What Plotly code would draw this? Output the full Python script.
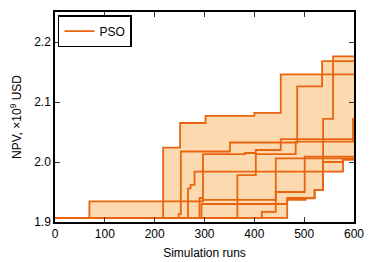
import numpy as np
import plotly.graph_objects as go

# each run: best NPV found so far (x = simulation run, y = NPV in 1e9 USD)
run_x = [
    [0, 217, 251, 302, 400, 453],
    [0, 248, 252.5, 351, 486, 536],
    [0, 466, 503, 521, 538, 558],
    [0, 69, 297, 443],
    [0, 267, 272, 280, 578],
    [0, 290, 297, 381, 403, 453],
    [0, 366, 403, 483, 598],
    [0, 294, 443, 501],
    [0, 415, 443, 466, 521, 538, 578],
]
run_y = [
    [1.907, 2.024, 2.065, 2.077, 2.082, 2.146],
    [1.907, 1.913, 2.0175, 2.0325, 2.126, 2.168],
    [1.907, 1.937, 1.9395, 1.9535, 2.072, 2.176],
    [1.907, 1.9345, 1.937, 2.006],
    [1.907, 1.956, 1.962, 1.984, 2.004],
    [1.907, 1.94, 2.013, 2.015, 2.02, 2.038],
    [1.907, 1.978, 2.013, 2.034, 2.072],
    [1.907, 1.93, 1.95, 2.009],
    [1.907, 1.917, 1.93, 1.94, 1.953, 2.0, 2.004],
]
x_end = 600

line_col = '#e8640f'
fill_col = '#fdd9b0'

# common grid for the envelope
grid = np.unique(np.concatenate([np.array(r, float) for r in run_x] + [[x_end]]))

def step_eval(xs, ys, g):
    idx = np.searchsorted(np.array(xs, float), g, side='right') - 1
    return np.array(ys)[idx]

vals = np.array([step_eval(rx, ry, grid) for rx, ry in zip(run_x, run_y)])
lo = vals.min(axis=0)
hi = vals.max(axis=0)

fig = go.Figure()

fig.add_trace(go.Scatter(x=grid, y=lo, mode='lines', line=dict(width=0, shape='hv'),
                         showlegend=False, hoverinfo='skip'))
fig.add_trace(go.Scatter(x=grid, y=hi, mode='lines', line=dict(width=0, shape='hv'),
                         fill='tonexty', fillcolor=fill_col, showlegend=False, hoverinfo='skip'))

for i, (rx, ry) in enumerate(zip(run_x, run_y)):
    fig.add_trace(go.Scatter(
        x=list(rx) + [x_end], y=list(ry) + [ry[-1]],
        mode='lines', line=dict(color=line_col, width=1.8, shape='hv'),
        name='PSO', showlegend=(i == 0)
    ))

axis_common = dict(showline=True, linecolor='black', linewidth=1.5, mirror='ticks',
                   ticks='inside', ticklen=5, tickcolor='#333333', showgrid=False,
                   zeroline=False, automargin=False, tickfont=dict(size=12, color='black'))

fig.update_layout(
    width=374, height=262,
    margin=dict(l=55, r=20, t=12, b=40),
    paper_bgcolor='white', plot_bgcolor='white',
    font=dict(family='Liberation Sans, Arial, sans-serif', size=12, color='black'),
    xaxis=dict(range=[0, 600], dtick=100,
               title=dict(text='Simulation runs', font=dict(size=12), standoff=8),
               **axis_common),
    yaxis=dict(range=[1.9, 2.25], tickvals=[1.9, 2.0, 2.1, 2.2], ticktext=['1.9', '2.0', '2.1', '2.2'],
               title=dict(text='NPV, ×10<sup>9</sup> USD', font=dict(size=12), standoff=10),
               **axis_common),
    legend=dict(x=0.01, y=0.985, xanchor='left', yanchor='top', bgcolor='white',
                bordercolor='black', borderwidth=1.5, font=dict(size=12)),
)

fig.write_html("out.html", config={'displayModeBar': False},
               post_script="document.body.style.margin='0';")
